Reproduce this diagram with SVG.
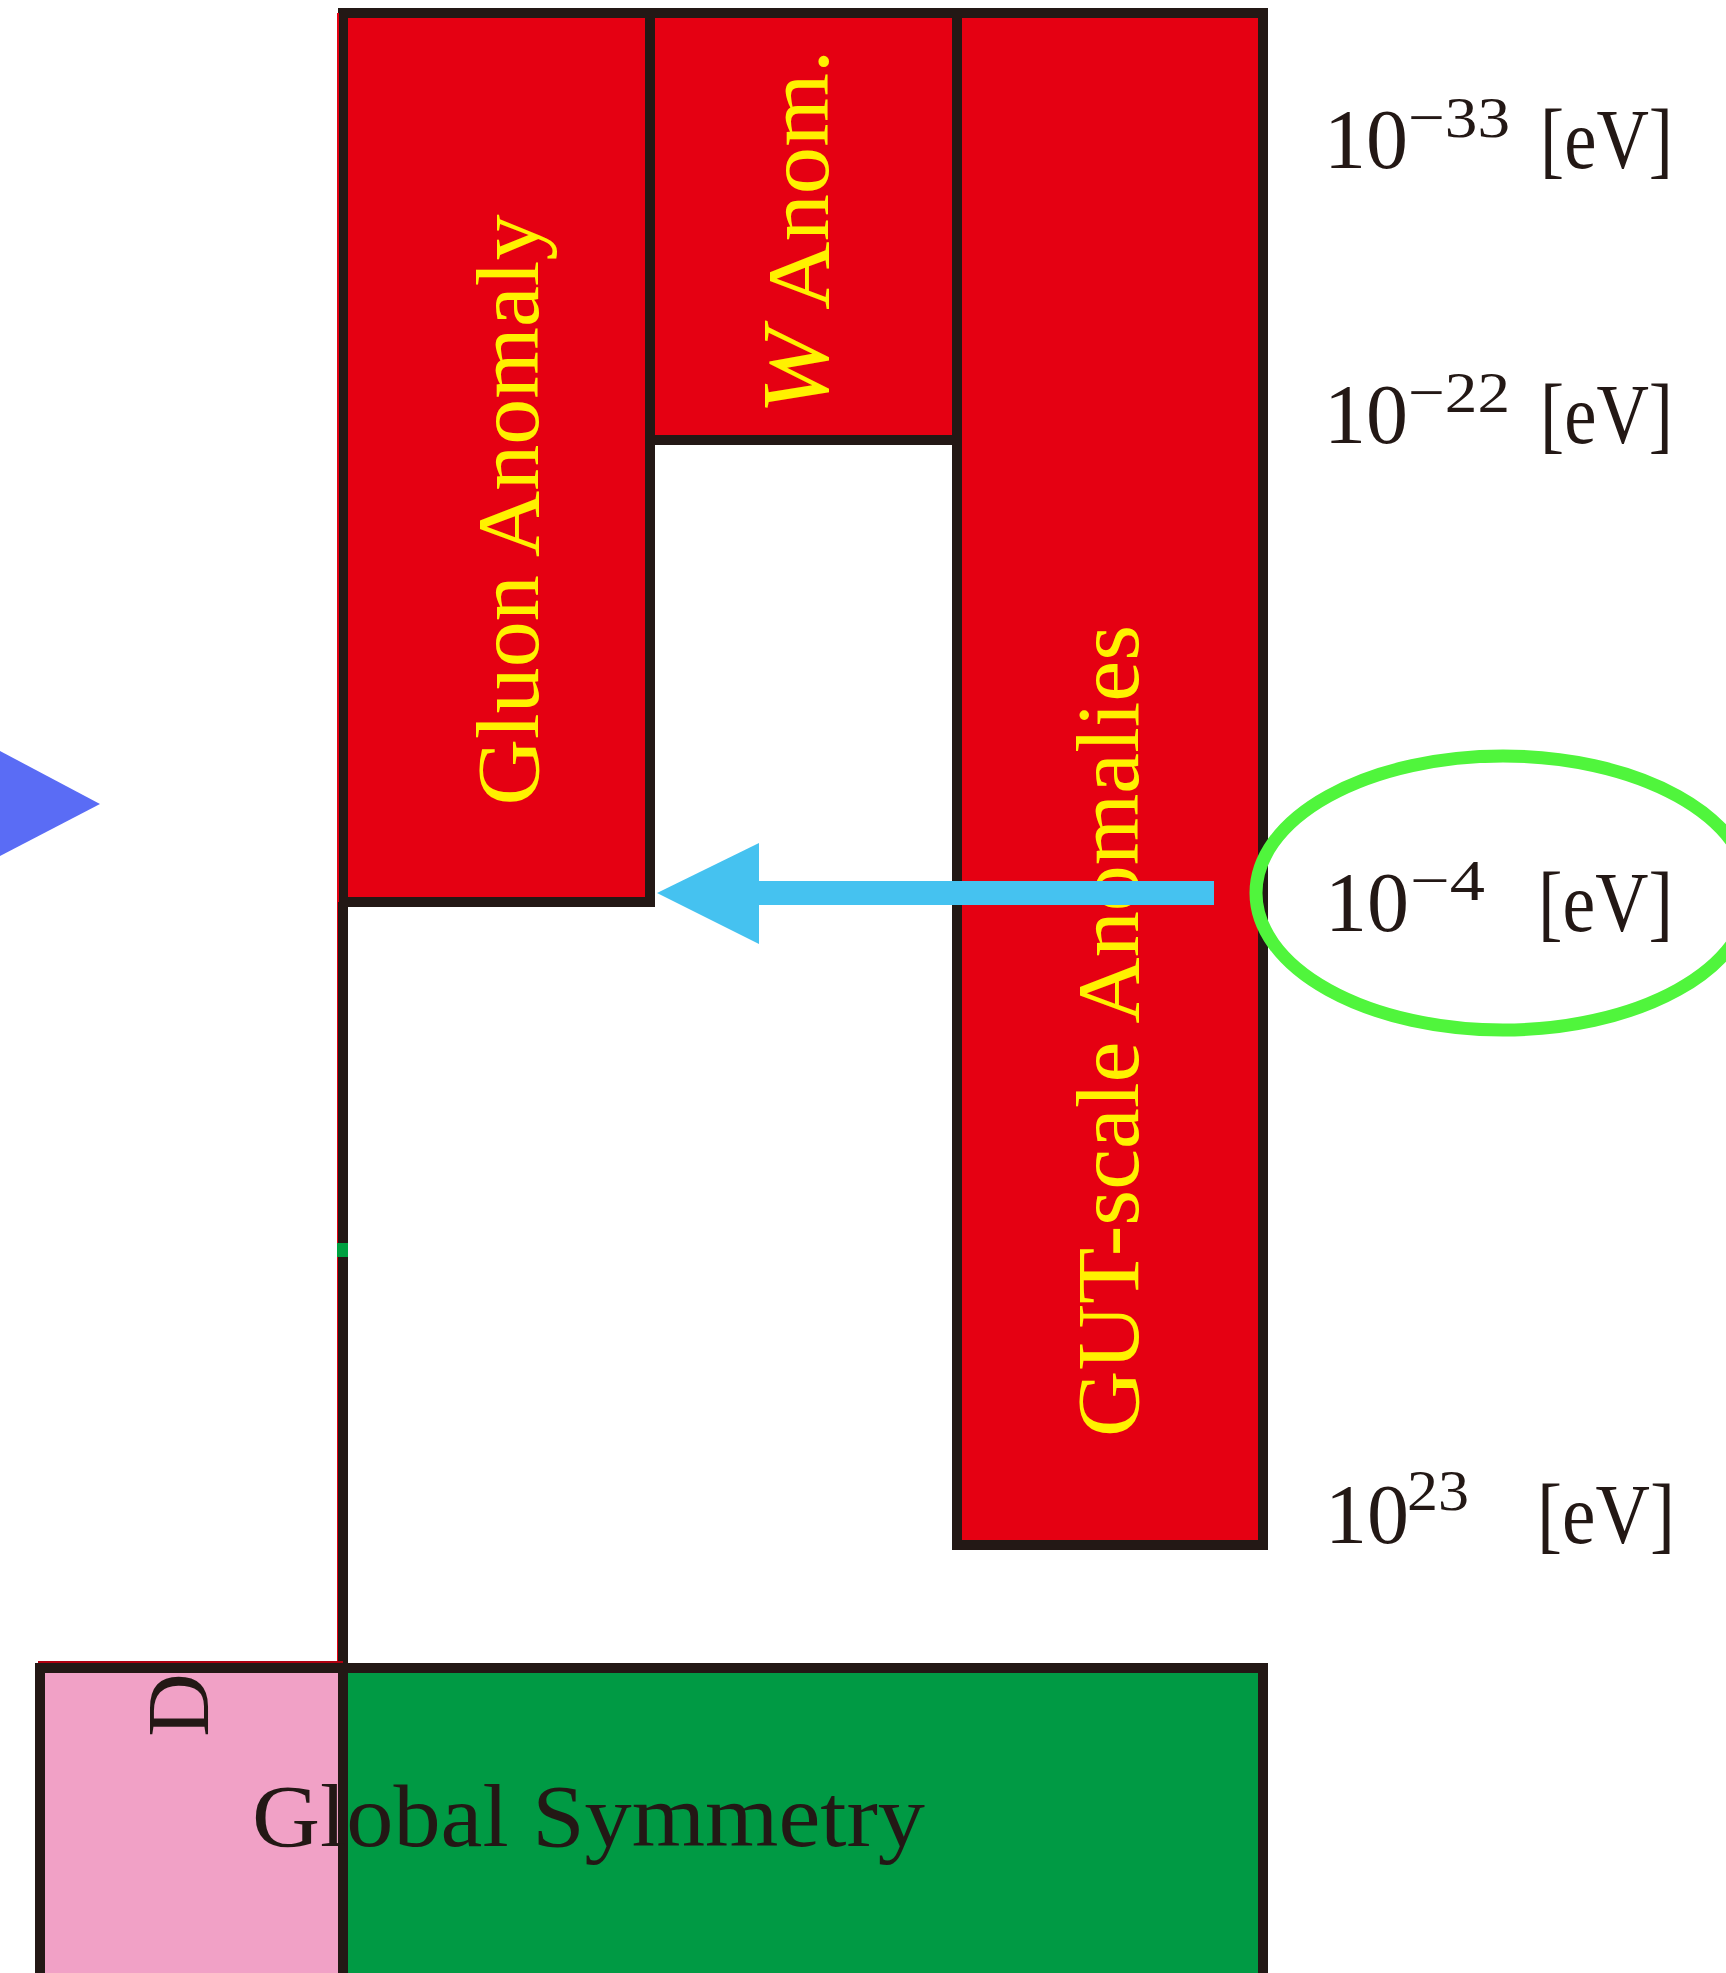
<svg xmlns="http://www.w3.org/2000/svg" width="1726" height="1973" viewBox="0 0 1726 1973">
<style>
.red{fill:#E50012;stroke:#231815;stroke-width:10}
.yl{font-family:"Liberation Serif",serif;fill:#FFF100;font-size:88px}
.bk{font-family:"Liberation Serif",serif;fill:#231815;font-size:88px}
.num{font-family:"Liberation Serif",serif;fill:#231815;font-size:84px}
.sup{font-family:"Liberation Serif",serif;fill:#231815;font-size:58px}
</style>
<rect width="1726" height="1973" fill="#FFFFFF"/>
<g id="gluon">
<rect class="red" x="343" y="13" width="307" height="889"/>
<text class="yl" transform="translate(538,510) rotate(-90)" text-anchor="middle" textLength="591" lengthAdjust="spacingAndGlyphs">Gluon Anomaly</text>
</g>
<g id="w-anom">
<rect class="red" x="650" y="13" width="307" height="427"/>
<text class="yl" transform="translate(828,232) rotate(-90)" text-anchor="middle" textLength="365" lengthAdjust="spacingAndGlyphs"><tspan font-style="italic" font-size="96">W</tspan> Anom.</text>
</g>
<g id="gut">
<rect class="red" x="957" y="13" width="306" height="1532"/>
<text class="yl" transform="translate(1138,1031) rotate(-90)" text-anchor="middle" textLength="812" lengthAdjust="spacingAndGlyphs">GUT-scale Anomalies</text>
</g>
<g id="stem">
<line x1="338" y1="13" x2="338" y2="1664" stroke="#E50012" stroke-width="2"/>
<line x1="343" y1="902" x2="343" y2="1667" stroke="#231815" stroke-width="10"/>
<rect x="337" y="1243" width="11" height="14" fill="#00A040"/>
</g>
<g id="discrete">
<rect x="40" y="1668" width="303" height="310" fill="#F1A1C6" stroke="#231815" stroke-width="10"/>
<line x1="38" y1="1662" x2="343" y2="1662" stroke="#B00010" stroke-width="2"/>
<text class="bk" transform="translate(208,1705) rotate(-90)" text-anchor="middle">D</text>
</g>
<g id="global">
<rect x="343" y="1668" width="920" height="310" fill="#009A44" stroke="#231815" stroke-width="10"/>
<text class="bk" x="252" y="1846" textLength="673" lengthAdjust="spacingAndGlyphs">Global Symmetry</text>
</g>
<g id="connectors">
<line x1="1214" y1="893" x2="755" y2="893" stroke="#45C2F0" stroke-width="24"/>
<polygon points="657,893 759,843 759,944" fill="#45C2F0"/>
</g>
<g id="highlight">
<ellipse cx="1503" cy="893" rx="247" ry="137" fill="none" stroke="#50F53C" stroke-width="13"/>
</g>
<g id="pointer">
<polygon points="0,751 100,804 0,856" fill="#5A6CF5"/>
</g>
<g id="scale-labels">
<text class="num" x="1324" y="168">10</text>
<text class="sup" x="1408" y="137" textLength="102" lengthAdjust="spacingAndGlyphs">−33</text>
<text class="num" x="1540" y="168" textLength="133" lengthAdjust="spacingAndGlyphs">[eV]</text>
<text class="num" x="1324" y="443">10</text>
<text class="sup" x="1408" y="412" textLength="102" lengthAdjust="spacingAndGlyphs">−22</text>
<text class="num" x="1540" y="443" textLength="133" lengthAdjust="spacingAndGlyphs">[eV]</text>
<text class="num" x="1325" y="931">10</text>
<text class="sup" x="1410" y="900" textLength="75" lengthAdjust="spacingAndGlyphs">−4</text>
<text class="num" x="1538" y="931" textLength="135" lengthAdjust="spacingAndGlyphs">[eV]</text>
<text class="num" x="1325" y="1543">10</text>
<text class="sup" x="1407" y="1510" textLength="62" lengthAdjust="spacingAndGlyphs">23</text>
<text class="num" x="1537" y="1543" textLength="138" lengthAdjust="spacingAndGlyphs">[eV]</text>
</g>
</svg>
